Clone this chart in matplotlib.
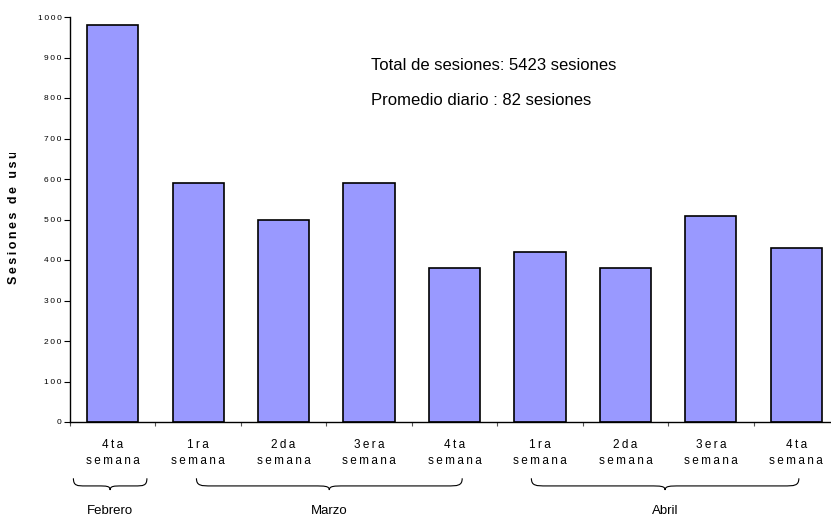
import matplotlib.pyplot as plt
from matplotlib.path import Path
from matplotlib.patches import PathPatch
from matplotlib.transforms import Bbox
import numpy as np

plt.rcParams['font.family'] = ['Liberation Sans', 'DejaVu Sans']

weeks = ["4ta", "1ra", "2da", "3era", "4ta", "1ra", "2da", "3era", "4ta"]
sessions = [980, 590, 500, 590, 380, 420, 380, 508, 430]
months = ["Febrero", "Marzo", "Abril"]
month_spans = [(-0.46, 0.40), (0.98, 4.09), (4.90, 8.03)]
summary = ["Total de sesiones: 5423 sesiones", "Promedio diario : 82 sesiones"]

TS = "\u2009"  # thin space for the loose letter spacing


def spaced(s):
    return TS.join(s)


fig = plt.figure(figsize=(8.31, 5.18), dpi=100)
ax = fig.add_axes([70 / 831, 96 / 518, 769 / 831, 405 / 518])

x = np.arange(len(sessions))
ax.bar(x, sessions, width=0.6, color="#9999ff", edgecolor="black", linewidth=1.2)

ax.set_xlim(-0.5, len(sessions) - 0.5)
ax.set_ylim(0, 1000)
ax.set_yticks(range(0, 1001, 100))
ax.set_yticklabels([spaced(str(v)) for v in range(0, 1001, 100)], fontsize=6)
ax.set_xticks(np.arange(len(sessions) + 1) - 0.5)
ax.set_xticklabels([])
ax.tick_params(axis="x", direction="out", length=3, width=0.8, color="#555555")
ax.tick_params(axis="y", direction="out", length=4, width=0.8, pad=2)
for side in ("top", "right"):
    ax.spines[side].set_visible(False)
ax.spines["left"].set_linewidth(1.0)
ax.spines["bottom"].set_linewidth(1.0)

# week labels under each bar
for i, w in enumerate(weeks):
    ax.text(i, -42, spaced(w) + "\n" + spaced("semana"), ha="center", va="top",
            fontsize=8.5, linespacing=1.4, clip_on=False)

# month braces below the week labels
trans = ax.get_xaxis_transform()
def brace(x0, x1, ytop, ybot):
    xm = (x0 + x1) / 2
    r = min(0.18, (x1 - x0) / 6)
    yflat = ytop - (ytop - ybot) * 0.65
    verts = [
        (x0, ytop), (x0, yflat), (x0 + r * 0.3, yflat), (x0 + r, yflat),
        (xm - r, yflat),
        (xm - r * 0.3, yflat), (xm, yflat), (xm, ybot),
        (xm, yflat), (xm + r * 0.3, yflat), (xm + r, yflat),
        (x1 - r, yflat),
        (x1 - r * 0.3, yflat), (x1, yflat), (x1, ytop),
    ]
    codes = [Path.MOVETO, Path.CURVE4, Path.CURVE4, Path.CURVE4, Path.LINETO,
             Path.CURVE4, Path.CURVE4, Path.CURVE4,
             Path.CURVE4, Path.CURVE4, Path.CURVE4, Path.LINETO,
             Path.CURVE4, Path.CURVE4, Path.CURVE4]
    return PathPatch(Path(verts, codes), transform=trans, fill=False,
                     edgecolor="black", linewidth=0.8, clip_on=False)

for name, (x0, x1) in zip(months, month_spans):
    ax.add_patch(brace(x0, x1, -0.139, -0.168))
    ax.text((x0 + x1) / 2, -0.205, name, transform=trans, ha="center",
            va="top", fontsize=9.5, clip_on=False)

# summary text
ax.text(0.392, 0.881, summary[0], transform=ax.transAxes, fontsize=12, va="center")
ax.text(0.392, 0.795, summary[1], transform=ax.transAxes, fontsize=12, va="center")

# y axis label, cut off at the top
ylab = fig.text(14 / 831, 1 - 284 / 518, spaced("Sesiones de usuario"), rotation=90,
                rotation_mode="anchor", ha="left", va="center",
                fontsize=9, fontweight="bold")
ylab.set_clip_box(Bbox.from_extents(0, 0, 831, 518 - 153))
ylab.set_clip_on(True)

fig.savefig("out.png", dpi=100)
